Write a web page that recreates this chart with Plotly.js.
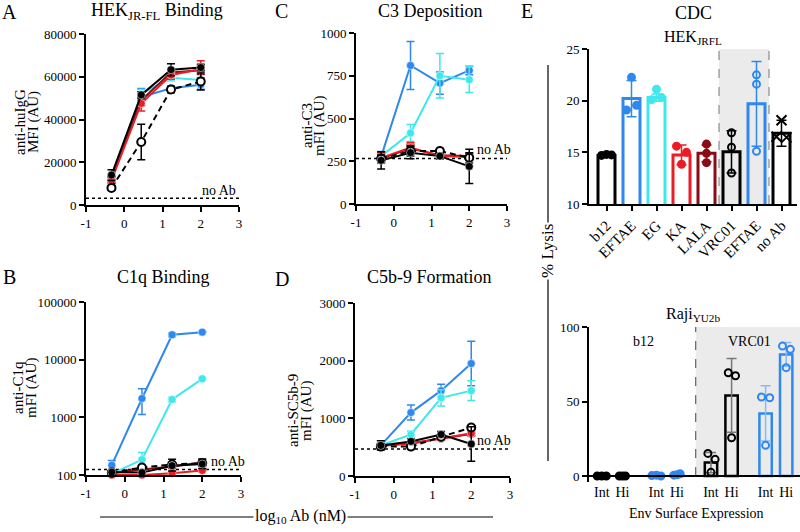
<!DOCTYPE html>
<html><head><meta charset="utf-8">
<script src="https://cdn.plot.ly/plotly-3.0.1.min.js"></script>
<style>html,body{margin:0;padding:0;background:#fff}#chart{width:800px;height:532px}</style>
</head><body><div id="chart"></div>
<script>
// ---------- shared ----------
const doseLog = [-0.334, 0.444, 1.222, 2.0];
const xTickVals = [-1, 0, 1, 2, 3];
const xTickText = ['-1', '0', '1', '2', '3'];
const seriesOrder = ['EFTAE', 'EG', 'LALA', 'KA', 'Ctrl', 'WT'];

// ---------- Panel A: HEK JR-FL binding ----------
const aWT = [14000, 51500, 63300, 64300],   aWTe = [2500, 1500, 2800, 1500];
const aCtrl = [8000, 29500, 54000, 57800],  aCtrle = [1000, 8300, 1500, 4000];
const aEFTAE = [12500, 50500, 54600, 56300], aEFTAEe = [1000, 4000, 1000, 2200];
const aEG = [12000, 52000, 59500, 58500],   aEGe = [1000, 2000, 1500, 1000];
const aKA = [11500, 47500, 60800, 63500],   aKAe = [1500, 3500, 2000, 4000];
const aLALA = [12000, 49000, 62000, 63000], aLALAe = [1500, 2500, 1500, 2000];
const aNoAb = 3100;

// ---------- Panel B: C1q binding ----------
const bWT = [112, 110, 145, 155],        bWTe = [5, 5, 10, 10];
const bCtrl = [110, 135, 152, 160],      bCtrle = [5, 10, 35, 30];
const bEFTAE = [148, 2120, 27000, 30000], bEFTAEe = [30, 1000, 2000, 1000];
const bEG = [105, 185, 2040, 4650],      bEGe = [5, 60, 200, 200];
const bKA = [100, 100, 107, 120],        bKAe = [3, 3, 5, 5];
const bLALA = [108, 125, 140, 165],      bLALAe = [5, 10, 10, 20];
const bNoAb = 124;

// ---------- Panel C: C3 deposition ----------
const cWT = [255, 300, 280, 220],     cWTe = [50, 35, 15, 100];
const cCtrl = [265, 310, 310, 270],   cCtrle = [20, 30, 15, 30];
const cEFTAE = [277, 810, 707, 781],  cEFTAEe = [30, 140, 65, 25];
const cEG = [280, 415, 750, 727],     cEGe = [20, 50, 130, 75];
const cKA = [270, 330, 280, 275],     cKAe = [30, 30, 15, 20];
const cLALA = [265, 325, 285, 280],   cLALAe = [25, 25, 15, 15];
const cNoAb = 266;

// ---------- Panel D: C5b-9 formation ----------
const dWT = [530, 600, 720, 555],        dWTe = [80, 40, 50, 300];
const dCtrl = [510, 510, 680, 840],      dCtrle = [40, 30, 40, 30];
const dEFTAE = [531, 1100, 1480, 1950],  dEFTAEe = [40, 130, 110, 385];
const dEG = [530, 720, 1356, 1480],      dEGe = [30, 60, 140, 170];
const dKA = [530, 560, 650, 740],        dKAe = [30, 30, 30, 40];
const dLALA = [520, 570, 650, 730],      dLALAe = [30, 30, 30, 30];
const dNoAb = 467;

// ---------- Panel E top: CDC HEK JRFL ----------
const eTopLabels = ['b12', 'EFTAE', 'EG', 'KA', 'LALA', 'VRC01', 'EFTAE', 'no Ab'];
const eTopMeans = [14.7, 20.2, 20.3, 14.75, 14.9, 15.05, 19.7, 16.85];
const eTopSD = [0.12, 1.75, 0.35, 0.95, 0.8, 2.05, 4.1, 1.25];
const eTopPoints = [[14.7, 14.8, 14.75], [22.26, 19.1, 19.55], [21.1, 20.1, 20.3], [15.6, 15.0, 13.85],
                    [15.8, 14.9, 14.0], [16.9, 15.5, 13.0], [22.5, 21.6, 15.1], [18.1, 16.5, 16.45]];

// ---------- Panel E bottom: CDC Raji YU2b ----------
const eBotLabels = ['Int', 'Hi', 'Int', 'Hi', 'Int', 'Hi', 'Int', 'Hi'];
const eBotMeans = [0, 0, 0.3, 0.9, 9.0, 54.1, 42.0, 81.6];
const eBotSD = [0, 0, 0.3, 0.5, 6.8, 24.8, 18.5, 8.0];
const eBotPoints = [[0, 0, 0], [0, 0, 0], [0.3, 0.6, 0], [0.6, 1.5, 0.9],
                    [15.2, 11.2, 2.5], [69.3, 67.3, 25.7], [53, 52.5, 20.6], [87.2, 85, 72.7]];

// ---------- styling (not data) ----------
const BLUE = '#2f88ee', CYAN = '#3ee8ec', RED = '#ec1c24', DRED = '#8a0c14', BLK = '#000000';
const colors = {WT: BLK, Ctrl: BLK, EFTAE: BLUE, EG: CYAN, KA: RED, LALA: DRED};
const eTopColors = [BLK, BLUE, CYAN, RED, DRED, BLK, BLUE, BLK];
const eTopSymbols = ['circle', 'circle', 'circle', 'circle', 'circle', 'circle-open', 'circle-open', 'x-thin-open'];
const eTopJitter = [[-0.2, 0, 0.2], [0, -0.2, 0.2], [0, -0.2, 0.2], [-0.2, 0.2, 0], [0, 0, 0], [0, 0, 0], [0, 0, 0], [0, -0.2, 0.2]];
const eBotPos = [0, 1, 2.65, 3.65, 5.3, 6.3, 7.95, 8.95];
const eBotColors = [BLK, BLK, BLUE, BLUE, BLK, BLK, BLUE, BLUE];
const eBotErrColors = ['#777', '#777', '#8ab8f4', '#8ab8f4', '#777', '#777', '#8ab8f4', '#8ab8f4'];
const eBotSymbols = ['circle', 'circle', 'circle', 'circle', 'circle-open', 'circle-open', 'circle-open', 'circle-open'];
const eBotJitter = [[-0.22, 0, 0.22], [-0.15, 0.15, 0], [-0.22, 0, 0.22], [-0.15, 0.15, 0], [-0.15, 0.2, 0], [-0.16, 0.19, 0], [-0.2, 0.2, 0], [-0.18, 0.2, 0]];

const W = 800, H = 532;
const px = x => x / W, py = y => 1 - y / H;

const panelData = [
  {xa: 'x',  ya: 'y',  noAb: aNoAb, s: {WT: [aWT, aWTe], Ctrl: [aCtrl, aCtrle], EFTAE: [aEFTAE, aEFTAEe], EG: [aEG, aEGe], KA: [aKA, aKAe], LALA: [aLALA, aLALAe]}},
  {xa: 'x2', ya: 'y2', noAb: bNoAb, s: {WT: [bWT, bWTe], Ctrl: [bCtrl, bCtrle], EFTAE: [bEFTAE, bEFTAEe], EG: [bEG, bEGe], KA: [bKA, bKAe], LALA: [bLALA, bLALAe]}},
  {xa: 'x3', ya: 'y3', noAb: cNoAb, s: {WT: [cWT, cWTe], Ctrl: [cCtrl, cCtrle], EFTAE: [cEFTAE, cEFTAEe], EG: [cEG, cEGe], KA: [cKA, cKAe], LALA: [cLALA, cLALAe]}},
  {xa: 'x4', ya: 'y4', noAb: dNoAb, s: {WT: [dWT, dWTe], Ctrl: [dCtrl, dCtrle], EFTAE: [dEFTAE, dEFTAEe], EG: [dEG, dEGe], KA: [dKA, dKAe], LALA: [dLALA, dLALAe]}}
];

const traces = [];
panelData.forEach(p => {
  traces.push({type: 'scatter', mode: 'lines', x: [-1, 3], y: [p.noAb, p.noAb], xaxis: p.xa, yaxis: p.ya,
    line: {color: BLK, width: 1.5, dash: 'dot'}, hoverinfo: 'skip'});
  seriesOrder.forEach(name => {
    const isCtrl = name === 'Ctrl';
    const [y, e] = p.s[name];
    traces.push({type: 'scatter', mode: 'lines+markers', x: doseLog, y: y, xaxis: p.xa, yaxis: p.ya,
      line: {color: colors[name], width: 2, dash: isCtrl ? '6px,4px' : 'solid'},
      marker: {size: 8, color: isCtrl ? '#ffffff' : colors[name], line: {color: isCtrl ? BLK : '#ffffff', width: isCtrl ? 2 : 0.5}},
      error_y: {type: 'data', array: e, visible: true, color: colors[name], thickness: 1.5, width: 4},
      cliponaxis: false, hoverinfo: 'skip'});
  });
});

// E top bars + points
eTopMeans.forEach((m, i) => {
  traces.push({type: 'bar', x: [i], y: [m], width: 0.68, xaxis: 'x5', yaxis: 'y5',
    marker: {color: 'rgba(0,0,0,0)', line: {color: eTopColors[i], width: 3}},
    error_y: {type: 'data', array: [eTopSD[i]], visible: true, color: eTopColors[i], thickness: 1.5, width: 5},
    hoverinfo: 'skip'});
  traces.push({type: 'scatter', mode: 'markers', x: eTopJitter[i].map(o => i + o), y: eTopPoints[i], xaxis: 'x5', yaxis: 'y5',
    marker: {size: eTopSymbols[i] === 'x-thin-open' ? 10 : 7, symbol: eTopSymbols[i], color: eTopColors[i],
      line: {color: eTopColors[i], width: 2}},
    cliponaxis: false, hoverinfo: 'skip'});
});
// E bottom bars + points
eBotMeans.forEach((m, i) => {
  traces.push({type: 'bar', x: [eBotPos[i]], y: [m], width: 0.6, xaxis: 'x6', yaxis: 'y6',
    marker: {color: 'rgba(0,0,0,0)', line: {color: eBotColors[i], width: 2.5}},
    error_y: {type: 'data', array: [eBotSD[i]], visible: eBotSD[i] > 0.4, color: eBotErrColors[i], thickness: 1.5, width: 5},
    hoverinfo: 'skip'});
  traces.push({type: 'scatter', mode: 'markers', x: eBotJitter[i].map(o => eBotPos[i] + o), y: eBotPoints[i], xaxis: 'x6', yaxis: 'y6',
    marker: {size: 7, symbol: eBotSymbols[i], color: eBotColors[i], line: {color: eBotColors[i], width: 2}},
    cliponaxis: false, hoverinfo: 'skip'});
});

const TICKF = {size: 13, color: BLK};
function ax(extra) {
  return Object.assign({showline: true, linewidth: 2, linecolor: BLK, ticks: 'outside', ticklen: 5, tickwidth: 2,
    tickcolor: BLK, showgrid: false, zeroline: false, tickfont: TICKF, fixedrange: true}, extra);
}
const xLog = (dom, anchor) => ax({domain: dom, anchor: anchor, range: [-1, 3], tickvals: xTickVals, ticktext: xTickText});

const layout = {
  width: W, height: H, margin: {l: 0, r: 0, t: 0, b: 0},
  paper_bgcolor: '#fff', plot_bgcolor: 'rgba(0,0,0,0)', showlegend: false, hovermode: false,
  font: {family: 'Liberation Serif, Times New Roman, serif', color: BLK},
  barmode: 'overlay',
  xaxis:  xLog([px(86), px(239)], 'y'),
  yaxis:  ax({domain: [py(205), py(34)], anchor: 'x', range: [0, 80000], dtick: 20000, tickformat: 'd'}),
  xaxis2: xLog([px(86), px(241)], 'y2'),
  yaxis2: ax({domain: [py(475), py(302)], anchor: 'x2', type: 'log', range: [2, 5], tickvals: [100, 1000, 10000, 100000], ticktext: ['100', '1000', '10000', '100000']}),
  xaxis3: xLog([px(356), px(507)], 'y3'),
  yaxis3: ax({domain: [py(204), py(33)], anchor: 'x3', range: [0, 1000], dtick: 250, tickformat: 'd'}),
  xaxis4: xLog([px(355), px(510)], 'y4'),
  yaxis4: ax({domain: [py(476), py(303)], anchor: 'x4', range: [0, 3000], dtick: 1000, tickformat: 'd'}),
  xaxis5: ax({domain: [px(589), px(797)], anchor: 'y5', range: [-0.7, 7.62], tickvals: [0, 1, 2, 3, 4, 5, 6, 7], ticktext: eTopLabels,
    tickangle: -45, tickfont: {size: 15, color: BLK}}),
  yaxis5: ax({domain: [py(204), py(49)], anchor: 'x5', range: [10, 25], dtick: 5}),
  xaxis6: ax({domain: [px(589), px(800)], anchor: 'y6', range: [-0.62, 9.62], showline: false, ticks: '', tickvals: eBotPos, ticktext: eBotLabels,
    tickfont: {size: 14, color: BLK}}),
  yaxis6: ax({domain: [py(482), py(327)], anchor: 'x6', range: [-4, 100], tickvals: [0, 50, 100]}),
  shapes: [
    {type: 'rect', layer: 'below', xref: 'x5', yref: 'y5 domain', x0: 4.5, x1: 6.5, y0: 0, y1: 1, fillcolor: '#ebebeb', line: {width: 0}},
    {type: 'line', xref: 'x5', yref: 'y5 domain', x0: 4.5, x1: 4.5, y0: 0, y1: 1, line: {color: '#777', width: 1, dash: 'dash'}},
    {type: 'line', xref: 'x5', yref: 'y5 domain', x0: 6.5, x1: 6.5, y0: 0, y1: 1, line: {color: '#777', width: 1, dash: 'dash'}},
    {type: 'rect', layer: 'below', xref: 'x6', yref: 'y6', x0: 4.56, x1: 9.62, y0: 0, y1: 100, fillcolor: '#ebebeb', line: {width: 0}},
    {type: 'line', xref: 'x6', yref: 'y6', x0: 4.56, x1: 4.56, y0: 0, y1: 100, line: {color: '#444', width: 1, dash: 'dash'}},
    {type: 'line', xref: 'x6 domain', yref: 'y6', x0: 0, x1: 1, y0: 0, y1: 0, line: {color: BLK, width: 2}},
    {type: 'line', xref: 'paper', yref: 'paper', x0: px(100), x1: px(493), y0: py(517), y1: py(517), line: {color: BLK, width: 1.2}},
    {type: 'line', xref: 'paper', yref: 'paper', x0: px(548), x1: px(548), y0: py(65), y1: py(461), line: {color: BLK, width: 1.2}}
  ],
  annotations: []
};

function txt(x, y, text, size, extra) {
  layout.annotations.push(Object.assign({x: px(x), y: py(y), xref: 'paper', yref: 'paper', text: text, showarrow: false,
    xanchor: 'center', yanchor: 'middle', font: {size: size, color: BLK}}, extra || {}));
}
// panel letters
txt(9, 12, 'A', 20); txt(9, 277, 'B', 20); txt(281, 11, 'C', 20); txt(282, 279, 'D', 20); txt(527, 11, 'E', 20);
// titles
txt(157, 12, 'HEK<sub>JR-FL</sub> Binding', 18);
txt(163, 277, 'C1q Binding', 18);
txt(430, 11, 'C3 Deposition', 18);
txt(429, 277, 'C5b-9 Formation', 18);
txt(693, 13, 'CDC', 18);
txt(693, 37, 'HEK<sub>JRFL</sub>', 16);
txt(693, 314, 'Raji<sub>YU2b</sub>', 16);
// y titles
const rot = {textangle: -90};
txt(20, 122, 'anti-huIgG', 15, rot); txt(33, 122, 'MFI (AU)', 15, rot);
txt(18, 388, 'anti-C1q', 15, rot); txt(31, 388, 'mFI (AU)', 15, rot);
txt(307, 126, 'anti-C3', 15, rot); txt(320, 126, 'mFI (AU)', 15, rot);
txt(293, 411, 'anti-SC5b-9', 15, rot); txt(306, 411, 'mFI (AU)', 15, rot);
// no Ab labels
txt(219, 190, 'no Ab', 14); txt(228, 461, 'no Ab', 14); txt(494, 150, 'no Ab', 14); txt(494, 440, 'no Ab', 14);
// E bottom group labels
txt(643, 341, 'b12', 14); txt(749, 341, 'VRC01', 14);
txt(696, 513, 'Env Surface Expression', 14);
txt(548, 251, '% Lysis', 17, {textangle: -90, bgcolor: '#fff'});
txt(300, 516, 'log<sub>10</sub> Ab (nM)', 16, {bgcolor: '#fff'});

Plotly.newPlot('chart', traces, layout, {staticPlot: true, displayModeBar: false});
</script>
</body></html>
